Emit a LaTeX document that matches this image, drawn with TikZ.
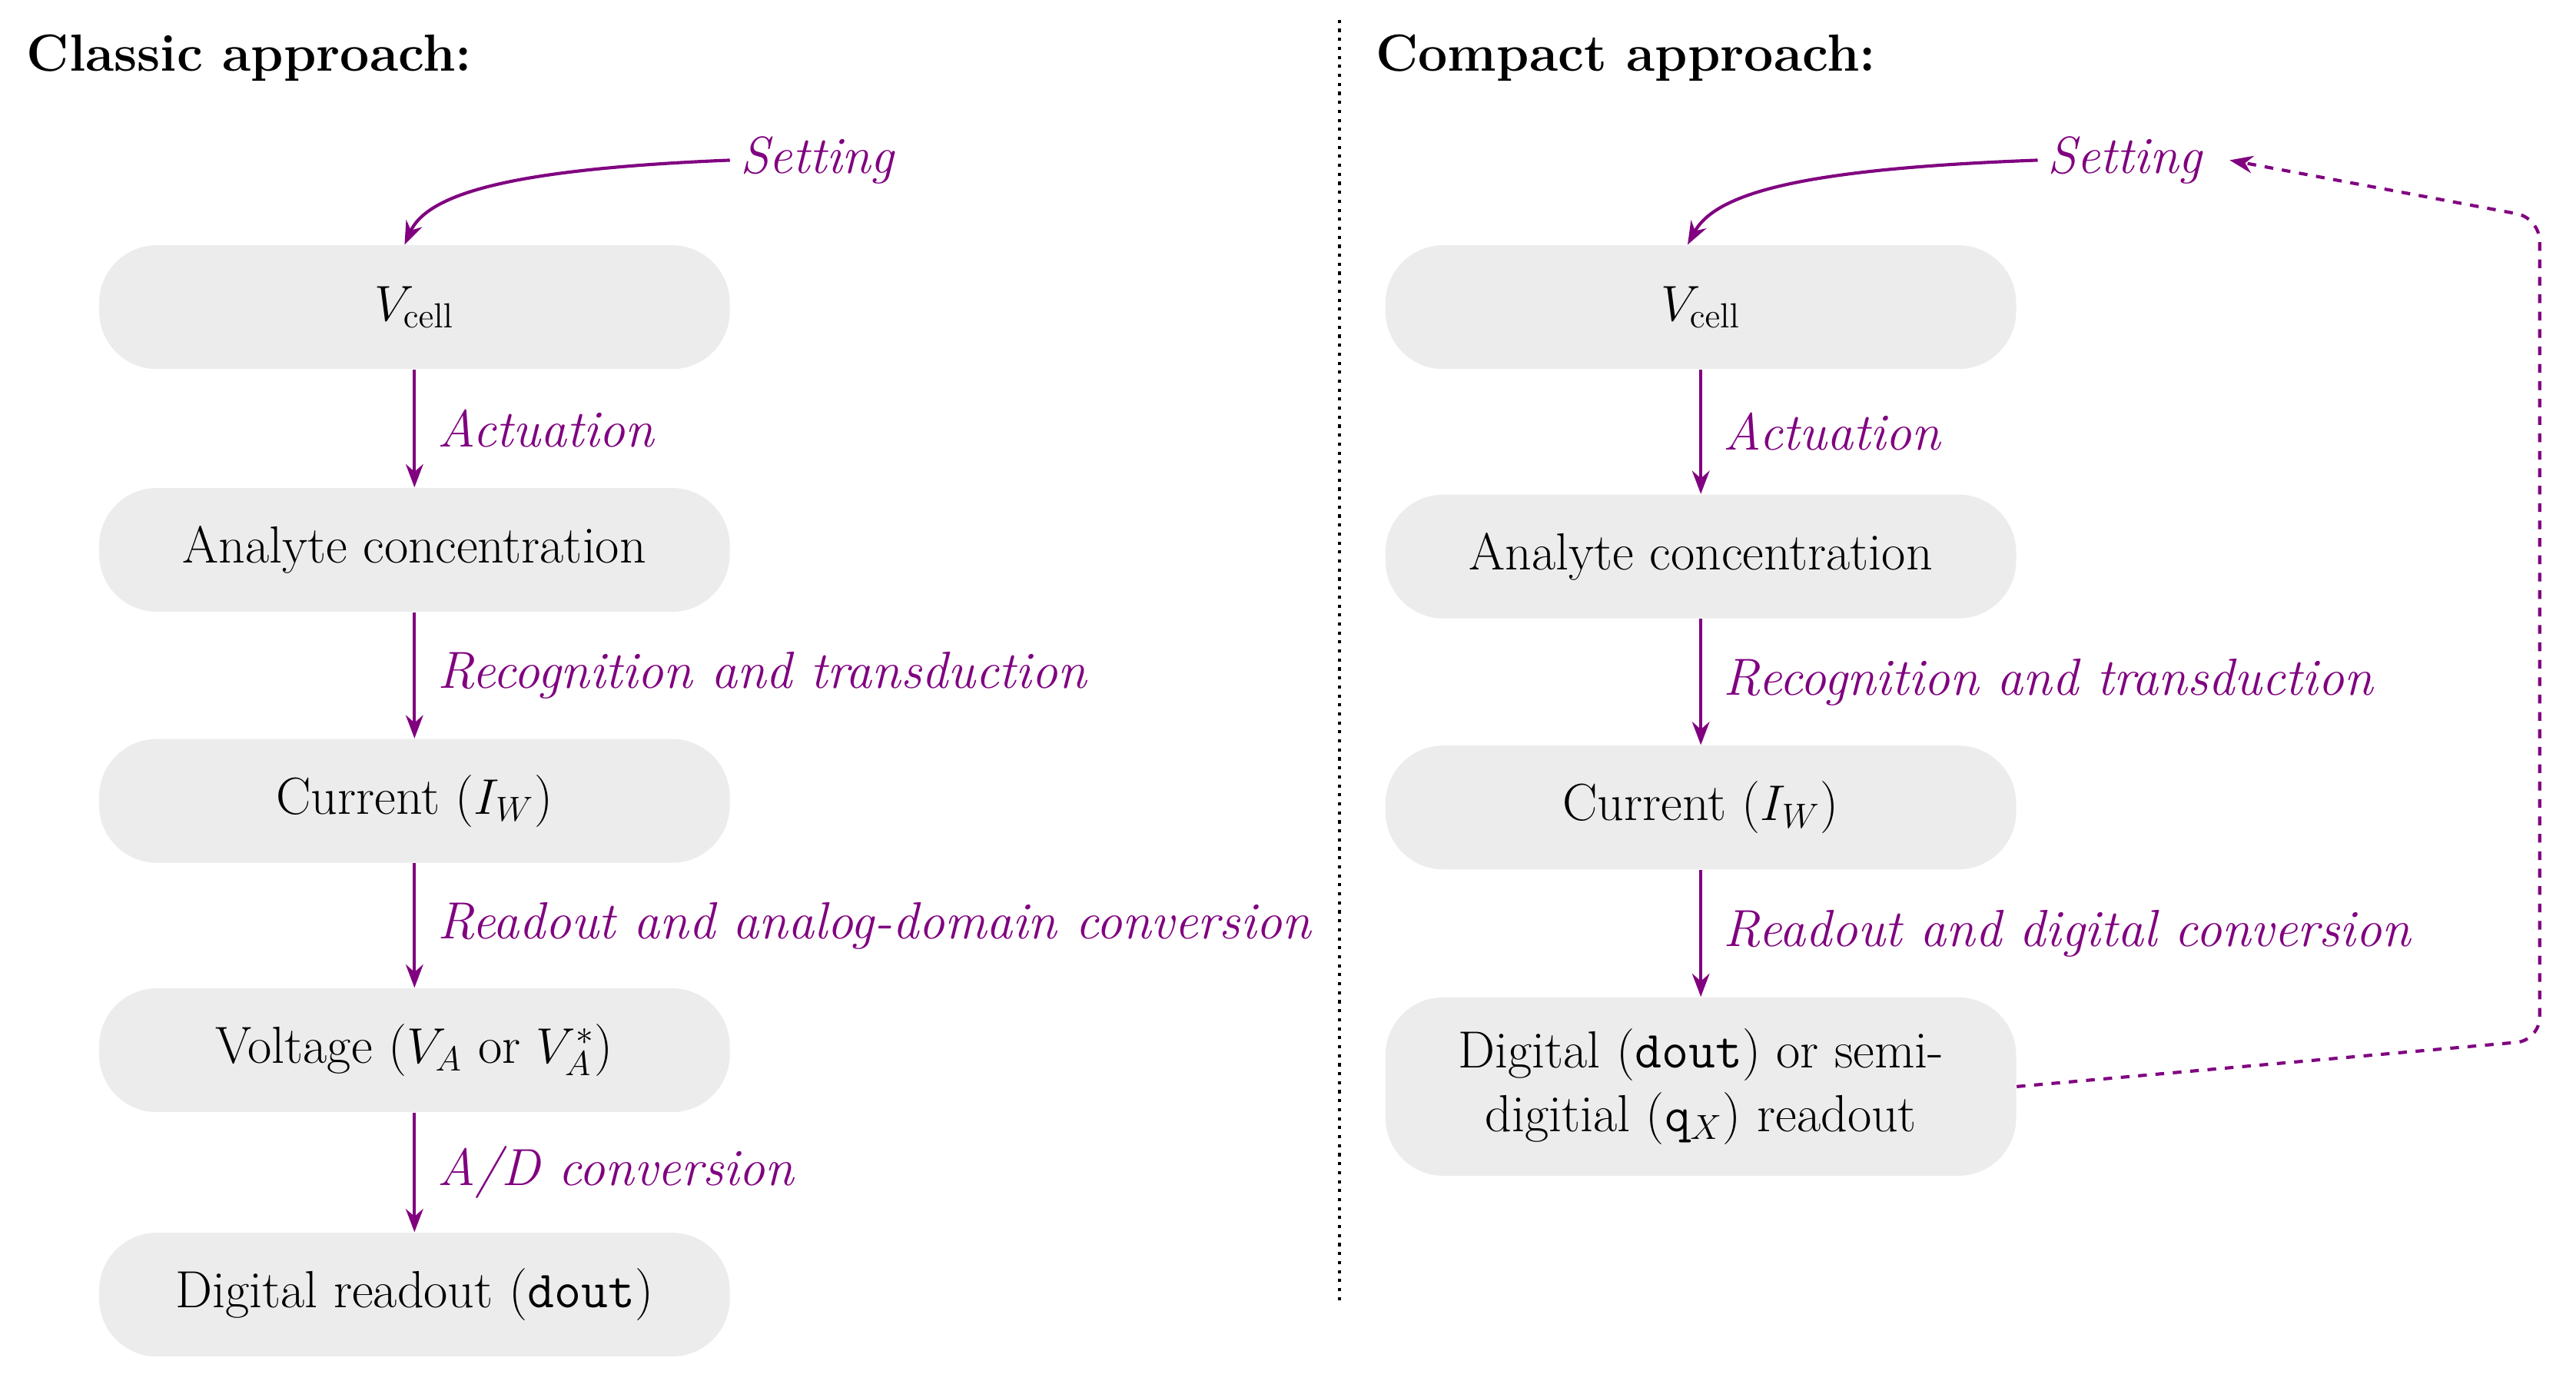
\documentclass[tikz,border=0pt]{standalone}
\usepackage{xcolor}
\usetikzlibrary{arrows.meta}
\definecolor{pur}{RGB}{128,0,128}
\definecolor{boxg}{RGB}{236,236,236}
\begin{document}
\begin{tikzpicture}[x=0.02cm,y=-0.02cm,font=\fontsize{18}{22}\selectfont,
  box/.style={fill=boxg,rounded corners=0.7cm,minimum width=7.64cm,minimum height=1.5cm,align=center,inner sep=2pt},
  arr/.style={pur,line width=1.1pt,-{Stealth[length=8pt,width=6pt]}},
  lab/.style={pur,font=\fontsize{18}{22}\selectfont\itshape,anchor=west},
  head/.style={font=\fontsize{18}{22}\selectfont\bfseries,anchor=west}]
\useasboundingbox (0,0) rectangle (1560,836);
\node[head] (h1) at (10,35) {Classic approach:};
\node[head] (h2) at (827,35) {Compact approach:};
\coordinate (d1) at (811,12); \coordinate (d2) at (811,790);
\draw[dotted,line width=1.1pt] (d1) -- (d2);
% left
\node[box] (l1) at (251,186) {$V_{\mathrm{cell}}$};
\node[box] (l2) at (251,333) {Analyte concentration};
\node[box] (l3) at (251,485) {Current ($I_W$)};
\node[box] (l4) at (251,636) {Voltage ($V_A$ or $V_A^*$)};
\node[box] (l5) at (251,784) {Digital readout (\texttt{dout})};
\node[lab] (ls) at (442,97) {Setting};
\draw[arr] (ls.west) .. controls (320,102) and (260,115) .. ([xshift=-0.12cm]l1.north);
\draw[arr] (l1) -- node[lab,midway,xshift=4pt]{Actuation} (l2);
\draw[arr] (l2) -- node[lab,midway,xshift=4pt]{Recognition and transduction} (l3);
\draw[arr] (l3) -- node[lab,midway,xshift=4pt]{Readout and analog-domain conversion} (l4);
\draw[arr] (l4) -- node[lab,midway,xshift=4pt]{A/D conversion} (l5);
% right
\node[box] (r1) at (1030,186) {$V_{\mathrm{cell}}$};
\node[box] (r2) at (1030,337) {Analyte concentration};
\node[box] (r3) at (1030,489) {Current ($I_W$)};
\node[box,minimum height=2.16cm] (r4) at (1030,658) {Digital (\texttt{dout}) or semi-\\digitial ($\mathtt{q}_X$) readout};
\node[lab] (rs) at (1234,97) {Setting};
\draw[arr] (rs.west) .. controls (1100,102) and (1040,115) .. ([xshift=-0.16cm]r1.north);
\draw[arr] (r1) -- node[lab,midway,xshift=4pt]{Actuation} (r2);
\draw[arr] (r2) -- node[lab,midway,xshift=4pt]{Recognition and transduction} (r3);
\draw[arr] (r3) -- node[lab,midway,xshift=4pt]{Readout and digital conversion} (r4);
\coordinate (c1) at (1538,630); \coordinate (c2) at (1538,132);
\draw[arr,dashed,rounded corners=8pt] (r4.east) -- (c1) -- (c2) -- ([xshift=6pt]rs.east);
\end{tikzpicture}
\end{document}
